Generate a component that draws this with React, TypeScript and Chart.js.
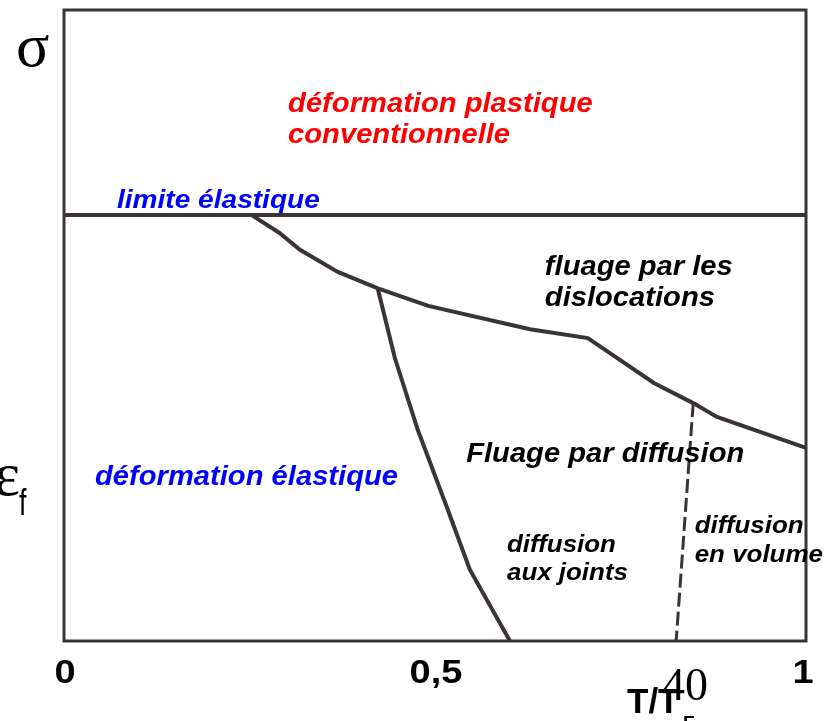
import React, { useEffect, useRef } from "react";
import { Chart, registerables } from "chart.js";

Chart.register(...registerables);

// Boundary: yield stress line (limite élastique), as T/TF vs normalized stress
const yieldLineX = [0, 1];
const yieldLineY = [0.675, 0.675];

// Boundary between dislocation creep and diffusion creep
const dislocX = [0.253, 0.29, 0.318, 0.369, 0.423, 0.491, 0.628, 0.706, 0.795, 0.848, 0.88, 1.0];
const dislocY = [0.675, 0.647, 0.62, 0.585, 0.559, 0.531, 0.494, 0.48, 0.409, 0.377, 0.355, 0.306];

// Boundary between elastic deformation and grain-boundary diffusion
const joints_X = [0.423, 0.446, 0.477, 0.516, 0.547, 0.601];
const joints_Y = [0.558, 0.448, 0.334, 0.212, 0.113, 0.0];

// Dashed boundary between grain-boundary and volume diffusion
const volumeX = [0.848, 0.825];
const volumeY = [0.377, 0.0];

// x tick values and labels
const xTickValues = [0, 0.5, 1];
const xTickLabels = ["0", "0,5", "1"];

// region labels (text, anchor x, anchor y in data units)
const regionTexts = [
  "déformation plastique",
  "conventionnelle",
  "limite élastique",
  "fluage par les",
  "dislocations",
  "Fluage par diffusion",
  "déformation élastique",
  "diffusion",
  "aux joints",
  "diffusion",
  "en volume",
];
const regionX = [0.302, 0.302, 0.0714, 0.648, 0.648, 0.542, 0.0418, 0.597, 0.597, 0.85, 0.85];
const regionY = [0.838, 0.789, 0.686, 0.58, 0.531, 0.284, 0.247, 0.141, 0.0967, 0.171, 0.125];

const LINE = "#3a3432";
const SANS = '"Liberation Sans", Arial, sans-serif';
const SERIF = '"Liberation Serif", "Times New Roman", serif';

const regionStyle = [
  { color: "#ff0000", size: 27 },
  { color: "#ff0000", size: 27 },
  { color: "#0000ff", size: 26 },
  { color: "#000000", size: 27 },
  { color: "#000000", size: 27 },
  { color: "#000000", size: 27 },
  { color: "#0000ff", size: 27 },
  { color: "#000000", size: 24 },
  { color: "#000000", size: 24 },
  { color: "#000000", size: 24 },
  { color: "#000000", size: 24 },
];

function pts(xs: number[], ys: number[]) {
  return xs.map((x, i) => ({ x, y: ys[i] }));
}

function drawText(
  ctx: CanvasRenderingContext2D,
  text: string,
  x: number,
  y: number,
  font: string,
  color: string,
  sx = 1,
  align: CanvasTextAlign = "left"
) {
  ctx.save();
  ctx.translate(x, y);
  ctx.scale(sx, 1);
  ctx.font = font;
  ctx.fillStyle = color;
  ctx.textAlign = align;
  ctx.textBaseline = "alphabetic";
  ctx.fillText(text, 0, 0);
  ctx.restore();
}

const framePlugin = {
  id: "frameAndText",
  beforeDatasetsDraw(chart: any) {
    const { ctx, chartArea } = chart;
    ctx.save();
    ctx.strokeStyle = LINE;
    ctx.lineWidth = 3;
    ctx.strokeRect(chartArea.left, chartArea.top, chartArea.right - chartArea.left, chartArea.bottom - chartArea.top);
    ctx.restore();
  },
  afterDatasetsDraw(chart: any) {
    const { ctx, chartArea } = chart;
    const xs = chart.scales.x;
    const ys = chart.scales.y;
    regionTexts.forEach((t, i) => {
      const st = regionStyle[i];
      drawText(
        ctx,
        t,
        xs.getPixelForValue(regionX[i]),
        ys.getPixelForValue(regionY[i]),
        `italic bold ${st.size}px ${SANS}`,
        st.color,
        1.08
      );
    });
    // x tick labels
    xTickValues.forEach((v, i) => {
      const off = i === xTickValues.length - 1 ? -3 : 1;
      drawText(ctx, xTickLabels[i], xs.getPixelForValue(v) + off, chartArea.bottom + 42, `bold 33px ${SANS}`, "#000", 1.15, "center");
    });
    // axis titles
    const L = chartArea.left;
    const B = chartArea.bottom;
    drawText(ctx, "σ", L - 48, chartArea.top + 56, `62px ${SERIF}`, "#000");
    drawText(ctx, "ε", L - 70, B - 146, `62px ${SERIF}`, "#000");
    drawText(ctx, "f", L - 45, B - 126, `36px ${SANS}`, "#000", 0.75);
    drawText(ctx, "T/T", L + 563, B + 72, `bold 35px ${SANS}`, "#000");
    drawText(ctx, "F", L + 619, B + 88, `bold 19px ${SANS}`, "#000");
    drawText(ctx, "40", L + 598, B + 59, `46px ${SERIF}`, "#000");
  },
};

export default function App() {
  const ref = useRef<HTMLCanvasElement | null>(null);
  useEffect(() => {
    if (!ref.current) return;
    const common = { pointRadius: 0, pointHoverRadius: 0, fill: false, tension: 0, borderColor: LINE, borderCapStyle: "butt" as const };
    const chart = new Chart(ref.current, {
      type: "line",
      data: {
        datasets: [
          { ...common, label: "limite élastique", data: pts(yieldLineX, yieldLineY), borderWidth: 4 },
          { ...common, label: "dislocations", data: pts(dislocX, dislocY), borderWidth: 4 },
          { ...common, label: "joints", data: pts(joints_X, joints_Y), borderWidth: 4 },
          { ...common, label: "volume", data: pts(volumeX, volumeY), borderWidth: 3, borderDash: [14, 5] },
        ],
      },
      options: {
        responsive: false,
        animation: false,
        devicePixelRatio: 1,
        layout: { padding: { left: 64, right: 31, top: 10, bottom: 80 } },
        plugins: { legend: { display: false }, tooltip: { enabled: false } },
        events: [],
        scales: {
          x: { type: "linear", min: 0, max: 1, display: false },
          y: { type: "linear", min: 0, max: 1, display: false },
        },
      },
      plugins: [framePlugin],
    });
    return () => chart.destroy();
  }, []);
  return (
    <div style={{ position: "absolute", left: 0, top: 0, width: 837, height: 721, background: "#fff" }}>
      <canvas ref={ref} width={837} height={721} />
    </div>
  );
}
